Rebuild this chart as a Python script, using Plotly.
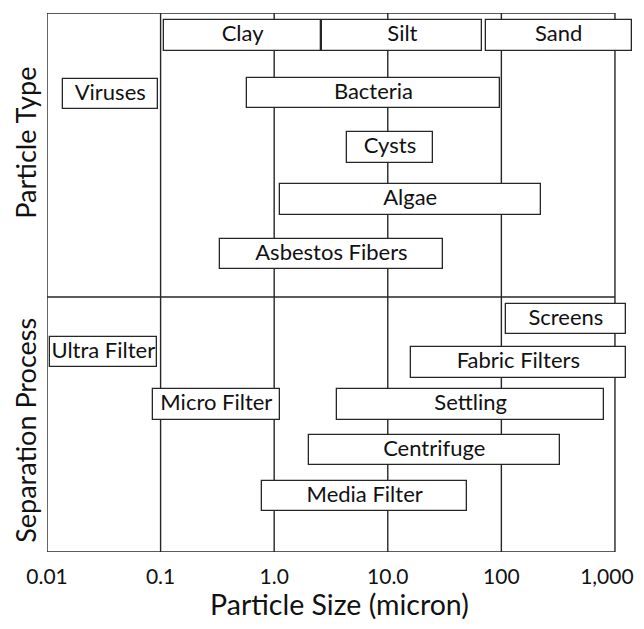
import math
import plotly.graph_objects as go

# ---- data ----
labels = ["Clay", "Silt", "Sand", "Viruses", "Bacteria", "Cysts", "Algae", "Asbestos Fibers",
          "Screens", "Ultra Filter", "Fabric Filters", "Micro Filter", "Settling", "Centrifuge", "Media Filter"]
size_min = [0.107, 2.66, 73, 0.0137, 0.577, 4.41, 1.12, 0.333,
            110, 0.0106, 16, 0.0857, 3.57, 2.02, 0.787]
size_max = [2.6, 68, 1400, 0.0948, 97, 24.8, 222, 30.6,
            1242, 0.0925, 1242, 1.12, 807, 326, 49.8]
lane = [22.5, 22.5, 22.5, 81, 80, 134.5, 186.7, 241,
        306, 339, 349.5, 391.5, 391.5, 437, 483]

tick_vals = [0.01, 0.1, 1, 10, 100, 1000]
tick_text = ["0.01", "0.1", "1.0", "10.0", "100", "1,000"]

section_bounds = [0, 284, 539]          # top, divider, bottom (lane units)
section_titles = ["Particle Type", "Separation Process"]
section_title_pos = [130, 417]

FONT = "Lato"
LINE = "#262626"

fig = go.Figure()

fig.add_trace(go.Bar(
    orientation="h",
    y=lane,
    base=size_min,
    x=[b - a for a, b in zip(size_min, size_max)],
    width=30.5,
    marker=dict(color="white", line=dict(color=LINE, width=1.3)),
    hoverinfo="skip",
    showlegend=False,
))

fig.add_trace(go.Scatter(
    x=[math.sqrt(a * b) for a, b in zip(size_min, size_max)],
    y=lane,
    mode="text",
    text=labels,
    textfont=dict(family=FONT, size=22, color="#111"),
    cliponaxis=False,
    hoverinfo="skip",
    showlegend=False,
))

# frame / grid lines
for v in tick_vals:
    fig.add_shape(type="line", xref="x", yref="y", x0=v, x1=v,
                  y0=section_bounds[0], y1=section_bounds[-1],
                  line=dict(color=LINE, width=1.4), layer="below")
for yb in section_bounds:
    fig.add_shape(type="line", xref="x", yref="y", x0=tick_vals[0], x1=tick_vals[-1],
                  y0=yb, y1=yb, line=dict(color=LINE, width=1.4), layer="below")

for t, yp in zip(section_titles, section_title_pos):
    fig.add_annotation(text=t, xref="paper", yref="y", x=-0.038, y=yp,
                       textangle=-90, showarrow=False, xanchor="center", yanchor="middle",
                       font=dict(family=FONT, size=27, color="#111"))

# keep the last tick label inside the visible page (pad it so its centre sits a bit left)
shown_ticks = tick_text[:-1] + [tick_text[-1] + "\u00a0\u00a0\u00a0"]

fig.update_layout(
    width=628, height=613,
    margin=dict(l=39, r=4, t=5, b=69, autoexpand=False),
    paper_bgcolor="white", plot_bgcolor="white",
    bargap=0,
    xaxis=dict(type="log", range=[-2, 3.15], tickvals=tick_vals, ticktext=shown_ticks,
               showgrid=False, zeroline=False, showline=False, ticks="",
               automargin=False, ticklabelstandoff=10, ticklabeloverflow="allow",
               tickfont=dict(family=FONT, size=21, color="#111"),
               title=dict(text="Particle Size (micron)", standoff=12,
                          font=dict(family=FONT, size=28.5, color="#111"))),
    yaxis=dict(range=[539, 0], showgrid=False, zeroline=False, showline=False,
               showticklabels=False, ticks="", automargin=False),
)

fig.write_html("out.html")
